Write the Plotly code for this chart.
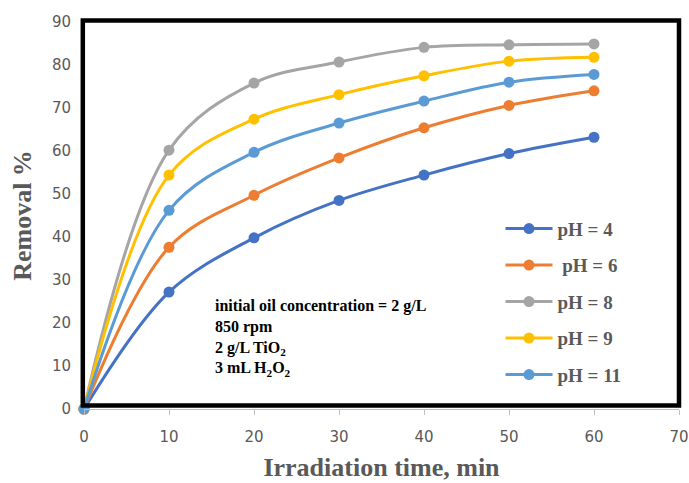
import plotly.graph_objects as go

# Irradiation time (min)
time_min = [0, 10, 20, 30, 40, 50, 60]

# Oil removal (%) at each pH
removal_ph4 = [0, 27.2, 39.8, 48.5, 54.4, 59.4, 63.2]
removal_ph6 = [0, 37.6, 49.7, 58.4, 65.4, 70.6, 74.0]
removal_ph8 = [0, 60.2, 75.8, 80.7, 84.1, 84.7, 84.9]
removal_ph9 = [0, 54.4, 67.4, 73.1, 77.5, 80.9, 81.8]
removal_ph11 = [0, 46.2, 59.7, 66.5, 71.6, 76.0, 77.8]

series_names = ["pH = 4", "\u00a0pH = 6", "pH = 8", "pH = 9", "pH = 11"]
series_values = [removal_ph4, removal_ph6, removal_ph8, removal_ph9, removal_ph11]
series_colors = ["#4472C4", "#ED7D31", "#A5A5A5", "#FFC000", "#5B9BD5"]

x_ticks = [0, 10, 20, 30, 40, 50, 60, 70]
y_ticks = [0, 10, 20, 30, 40, 50, 60, 70, 80, 90]

conditions = [
    "initial oil concentration = 2 g/L",
    "850 rpm",
    "2 g/L TiO<sub>2</sub>",
    "3 mL H<sub>2</sub>O<sub>2</sub>",
]

fig = go.Figure()
for i, (name, vals, col) in enumerate(zip(series_names, series_values, series_colors)):
    fig.add_trace(go.Scatter(
        x=time_min, y=vals, name=f"<b>{name}</b>", mode="lines+markers",
        line=dict(color=col, width=3, shape="spline", smoothing=1),
        marker=dict(color=col, size=11),
        cliponaxis=False, legendgroup=f"g{i}",
    ))

tick_font = dict(family="DejaVu Sans", size=15, color="#595959")
title_font = dict(family="Liberation Serif", size=26, color="#595959")

fig.update_layout(
    width=689, height=483,
    margin=dict(l=84, r=10, t=22, b=74),
    paper_bgcolor="white", plot_bgcolor="white",
    showlegend=True,
    legend=dict(
        x=0.70, y=0.515, xanchor="left", yanchor="top",
        font=dict(family="Liberation Serif", size=19, color="#595959"),
        tracegroupgap=8.8, itemwidth=47, bgcolor="rgba(0,0,0,0)",
    ),
    xaxis=dict(
        range=[0, 70], tickvals=x_ticks, showgrid=False, zeroline=False,
        showline=True, linecolor="#BFBFBF", linewidth=1,
        ticks="outside", ticklen=5, tickcolor="#BFBFBF",
        tickfont=tick_font, ticklabelstandoff=9, automargin=False,
        title=dict(text="<b>Irradiation time, min</b>", font=title_font, standoff=12),
    ),
    yaxis=dict(
        range=[0, 90], tickvals=y_ticks, showgrid=False, zeroline=False,
        showline=False, ticks="", tickfont=tick_font, ticklabelstandoff=12,
        automargin=False,
        title=dict(text="<b>Removal %</b>", font=title_font, standoff=12),
    ),
    shapes=[dict(
        type="rect", xref="paper", yref="paper",
        x0=-0.002, x1=1.0, y0=0.009, y1=1.004,
        line=dict(color="black", width=4.5), layer="above",
    )],
    annotations=[dict(
        text="<b>" + "<br>".join(conditions) + "</b>",
        xref="paper", yref="paper", x=(213 - 84) / 595, y=(409 - 295) / 387,
        xanchor="left", yanchor="top", align="left", showarrow=False,
        font=dict(family="Liberation Serif", size=16, color="black"),
    )],
)

fig.write_html("out.html")
